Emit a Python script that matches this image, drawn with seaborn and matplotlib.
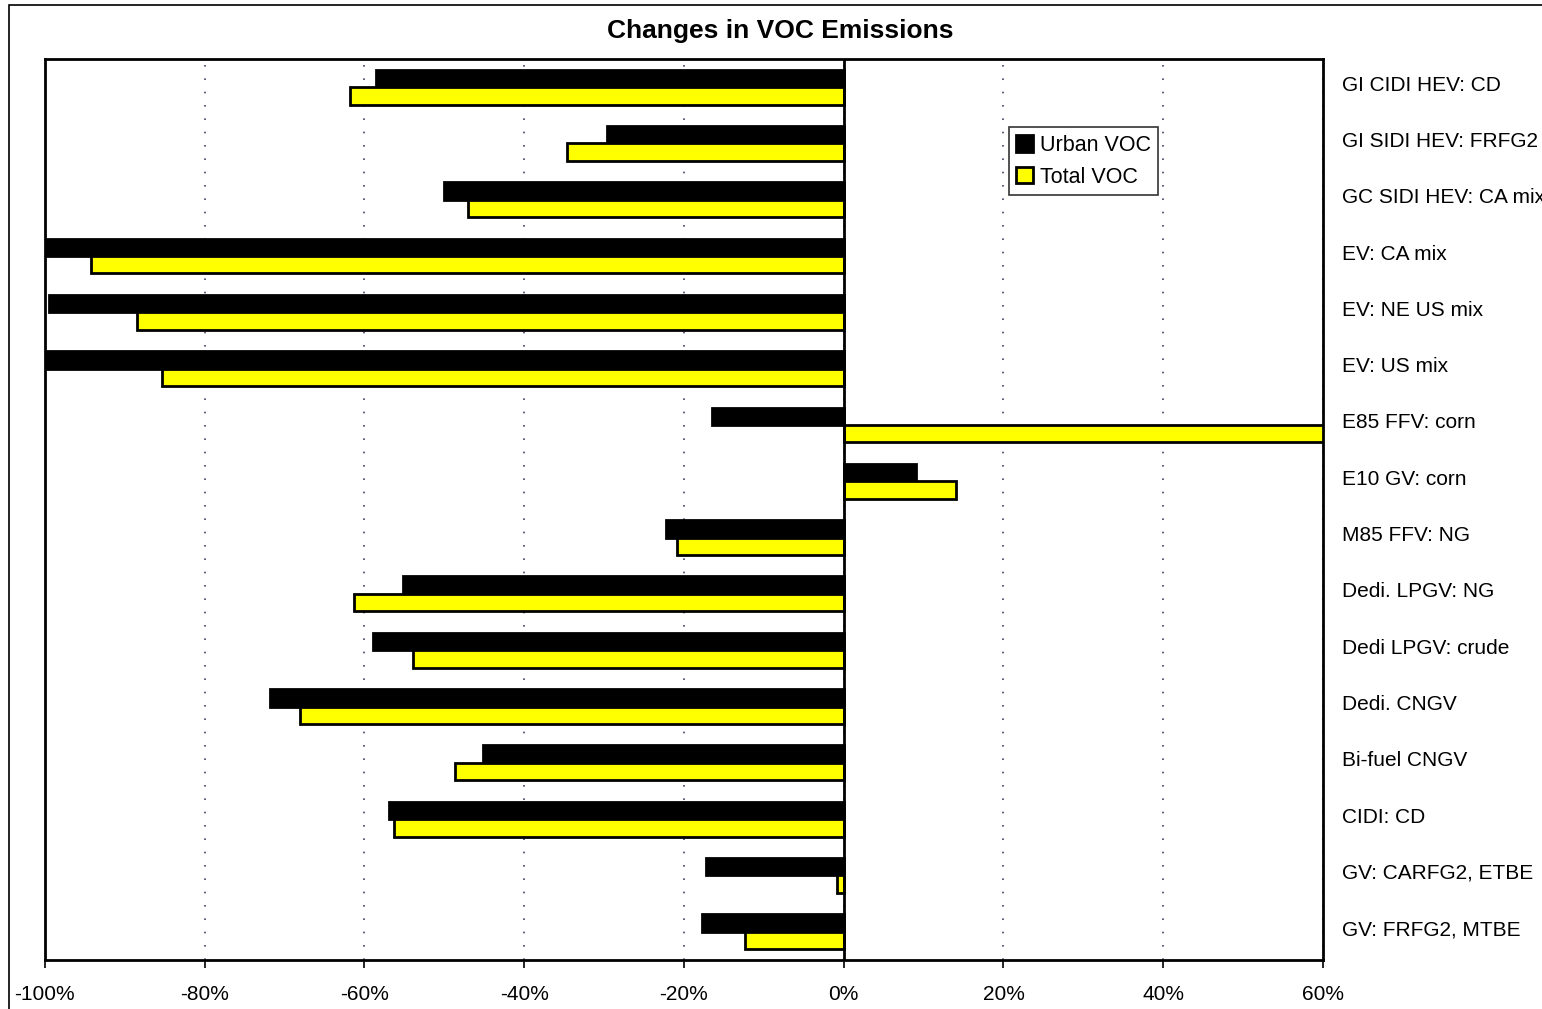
import pandas as pd
import seaborn as sns
import matplotlib.pyplot as plt
from matplotlib.patches import Rectangle
from matplotlib.transforms import ScaledTranslation

categories = [
    'GI CIDI HEV: CD', 'GI SIDI HEV: FRFG2', 'GC SIDI HEV: CA mix',
    'EV: CA mix', 'EV: NE US mix', 'EV: US mix', 'E85 FFV: corn',
    'E10 GV: corn', 'M85 FFV: NG', 'Dedi. LPGV: NG', 'Dedi LPGV: crude',
    'Dedi. CNGV', 'Bi-fuel CNGV', 'CIDI: CD', 'GV: CARFG2, ETBE',
    'GV: FRFG2, MTBE',
]
urban_voc = [-58.5, -29.6, -50.0, -99.7, -99.5, -100.0, -16.5, 9.0,
             -22.2, -55.1, -58.9, -71.8, -45.1, -56.9, -17.2, -17.7]
total_voc = [-61.8, -34.6, -47.0, -94.2, -88.5, -85.3, 75.0, 14.0,
             -20.9, -61.3, -53.9, -68.0, -48.7, -56.3, -0.8, -12.4]
series = ['Urban VOC', 'Total VOC']
xticks = [-100, -80, -60, -40, -20, 0, 20, 40, 60]

df = pd.DataFrame({
    'Pathway': categories * 2,
    'Change': urban_voc + total_voc,
    'Series': [series[0]] * len(categories) + [series[1]] * len(categories),
})

sns.set_style('white')
plt.rcParams['font.family'] = ['Liberation Sans', 'DejaVu Sans']
plt.rcParams['text.color'] = 'black'
plt.rcParams['xtick.labelcolor'] = 'black'
plt.rcParams['ytick.labelcolor'] = 'black'

fig = plt.figure(figsize=(15.42, 10.09), dpi=100)
ax = fig.add_axes([0.029, 0.0486, 0.829, 0.893])

sns.barplot(data=df, y='Pathway', x='Change', hue='Series', order=categories,
            hue_order=series, palette=['black', '#ffff00'], orient='h',
            width=0.62, edgecolor='black', linewidth=2, saturation=1, ax=ax)

ax.set_xlim(-100, 60)
ax.set_xticks(xticks)
ax.set_xticklabels([f'{t}%' for t in xticks], fontsize=15)
ax.tick_params(axis='x', bottom=True, length=6, width=1.2, color='black', pad=12)
ax.yaxis.tick_right()
ax.tick_params(axis='y', right=False, labelsize=15, pad=10)
ax.set_xlabel('')
ax.set_ylabel('')

ax.grid(axis='x', linestyle=(0, (1, 7)), color='#444466', linewidth=1.2)
ax.set_axisbelow(True)
ax.axvline(0, color='black', linewidth=2, zorder=5)
for s in ax.spines.values():
    s.set_color('black')
    s.set_linewidth(2)

leg = ax.legend(loc='upper left', bbox_to_anchor=(0.754, 0.924), fontsize=15.5,
                frameon=True, fancybox=False,
                handlelength=0.8, handleheight=0.8, handletextpad=0.3,
                borderpad=0.35, labelspacing=0.5, borderaxespad=0)
leg.get_frame().set_edgecolor('black')
leg.get_frame().set_linewidth(1.2)
for t in leg.get_texts():
    t.set_color('black')

fig.text(0.506, 0.969, 'Changes in VOC Emissions', ha='center', va='center',
         fontsize=19, fontweight='bold', color='black')
fig.patches.append(Rectangle((0.006, -0.01), 1.0, 1.005, transform=fig.transFigure,
                             fill=False, edgecolor='black', linewidth=1.2))

# labels sit a little above the bar pair in the original
shift = ScaledTranslation(0, 4 / 100, fig.dpi_scale_trans)
for lbl in ax.get_yticklabels():
    lbl.set_transform(lbl.get_transform() + shift)

plt.savefig('out.png', dpi=100)
